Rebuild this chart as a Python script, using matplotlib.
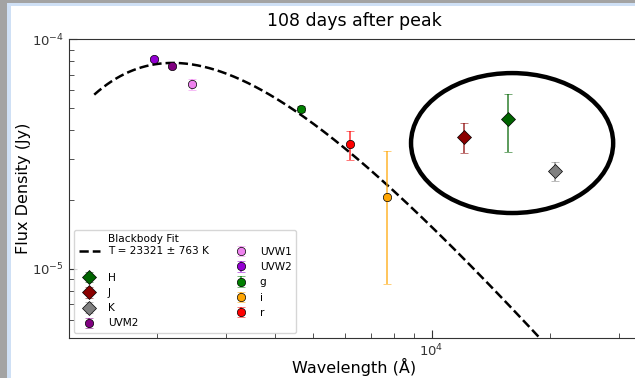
import numpy as np
import matplotlib
matplotlib.use("Agg")
import matplotlib.pyplot as plt
from matplotlib.patches import Ellipse, Rectangle

# Photometry at 108 days after peak (wavelength in Angstrom, flux density in Jy)
bands = ["H", "J", "K", "UVM2", "UVW1", "UVW2", "g", "i", "r"]
wavelengths = [15630, 12070, 20700, 2184, 2455, 1963, 4634, 7676, 6210]
fluxes = [4.49e-5, 3.75e-5, 2.67e-5, 7.63e-5, 6.37e-5, 8.18e-5, 4.97e-5, 2.06e-5, 3.49e-5]
flux_errs = [1.27e-5, 5.6e-6, 2.6e-6, 1.5e-6, 3.5e-6, 1.5e-6, 1.5e-6, 1.2e-5, 5.0e-6]
band_colors = ["darkgreen", "darkred", "gray", "purple", "violet",
               "darkviolet", "green", "orange", "red"]
band_markers = ["D", "D", "D", "o", "o", "o", "o", "o", "o"]

# Blackbody fit
T_fit = 23321
T_err = 763
bb_peak_flux = 7.87e-5

def planck_nu(lam_angstrom, T):
    x = 1.4388e8 / (lam_angstrom * T)
    return x**3 / np.expm1(x)

lam_grid = np.logspace(np.log10(1380), np.log10(40000), 400)
bb = planck_nu(lam_grid, T_fit)
bb = bb / bb.max() * bb_peak_flux

fig = plt.figure(figsize=(6.35, 3.78), dpi=100)
fig.patch.set_facecolor("white")

# window frame around the figure
fig.patches.append(Rectangle((0, 0), 7 / 635, 1, transform=fig.transFigure,
                             facecolor="#a3a3a3", edgecolor="none", zorder=-2))
fig.patches.append(Rectangle((7 / 635, 0), 4 / 635, 1, transform=fig.transFigure,
                             facecolor="#cfe0f5", edgecolor="none", zorder=-2))
fig.patches.append(Rectangle((0, 1 - 3 / 378), 1, 3 / 378, transform=fig.transFigure,
                             facecolor="#a3a3a3", edgecolor="none", zorder=-2))
fig.patches.append(Rectangle((7 / 635, 1 - 6 / 378), 1, 3 / 378, transform=fig.transFigure,
                             facecolor="#cfe0f5", edgecolor="none", zorder=-2))

ax = fig.add_axes([69 / 635, 40 / 378, 571 / 635, 299 / 378])

bb_line, = ax.plot(lam_grid, bb, "k--", lw=1.8,
                   label="Blackbody Fit\nT = %d ± %d K\n" % (T_fit, T_err))

handles = [bb_line]
for band, lam, f, e, c, m in zip(bands, wavelengths, fluxes, flux_errs,
                                 band_colors, band_markers):
    h = ax.errorbar(lam, f, yerr=e, fmt=m, color=c,
                    ecolor=matplotlib.colors.to_rgba(c, 0.75),
                    mec="black", mew=0.5, ms=6 if m == "o" else 7,
                    capsize=3, elinewidth=1.2, capthick=1.0, label=band)
    handles.append(h)

ax.set_xscale("log")
ax.set_yscale("log")
ax.set_xlim(1190, 34000)
ax.set_ylim(5e-6, 1e-4)

ax.add_patch(Ellipse((0.776, 0.652), 0.354, 0.468, transform=ax.transAxes,
                     fill=False, edgecolor="black", lw=3.2, zorder=5))

ax.set_title("108 days after peak", fontsize=12.5, pad=9)
ax.set_xlabel("Wavelength (Å)", fontsize=11.5, labelpad=-1)
ax.set_ylabel("Flux Density (Jy)", fontsize=11.5, labelpad=1)

ax.tick_params(which="both", direction="in", colors="#333333", labelsize=9.5)
ax.tick_params(which="major", length=6)
ax.tick_params(which="minor", length=3.5)
for s in ax.spines.values():
    s.set_color("#333333")

ax.legend(handles=handles, loc="lower left", ncol=2, fontsize=7.6,
          framealpha=0.8)

fig.savefig("out.png", dpi=100)
